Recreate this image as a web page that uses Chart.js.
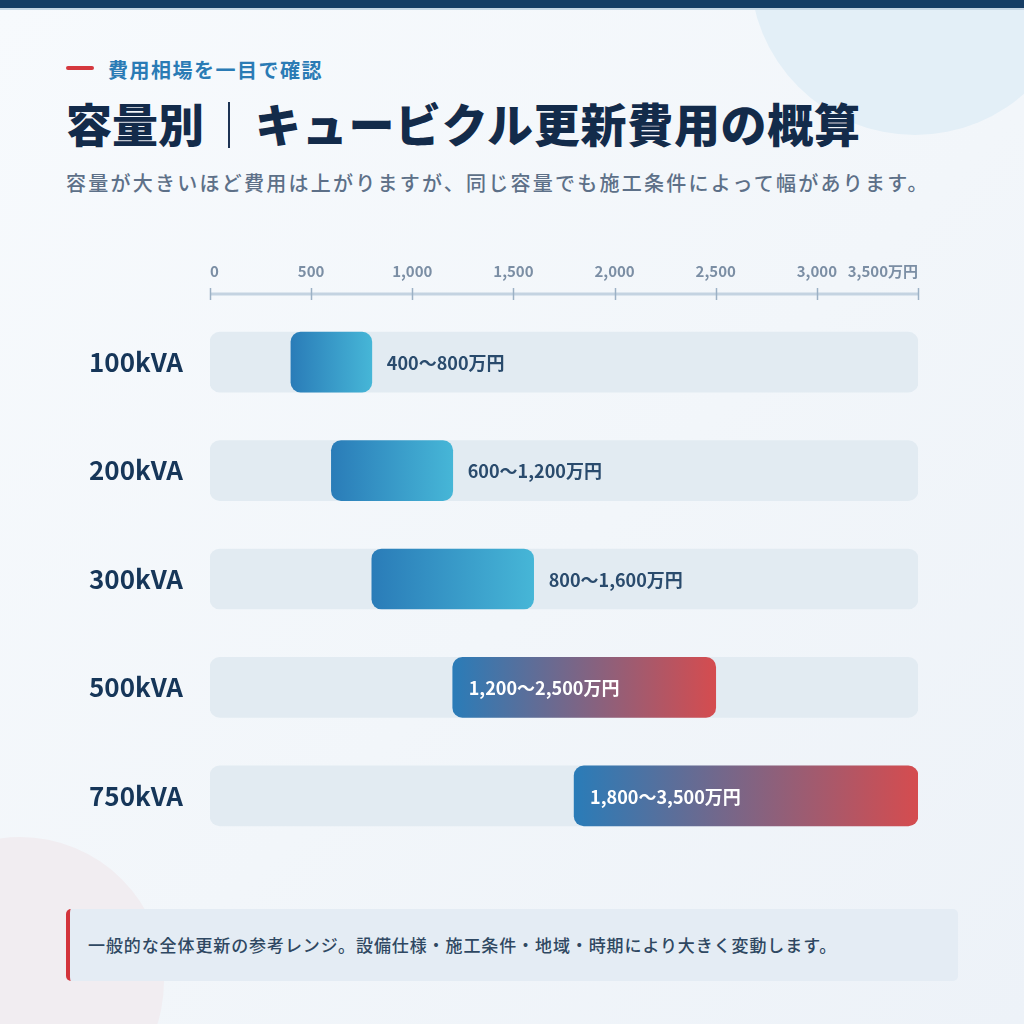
<!DOCTYPE html>
<html lang="ja">
<head>
<meta charset="utf-8">
<title>容量別｜キュービクル更新費用の概算</title>
<script src="https://cdn.jsdelivr.net/npm/chart.js@4.4.1/dist/chart.umd.min.js"></script>
<style>
  html, body { margin:0; padding:0; }
  body {
    width:1024px; height:1024px; position:relative; overflow:hidden;
    background:linear-gradient(135deg, #f7fafd 0%, #f2f6fa 55%, #edf2f8 100%);
    font-family:"Noto Sans CJK JP", "Noto Sans", sans-serif;
  }
  .blob { position:absolute; border-radius:50%; }
  .blob.tr { left:750px; top:-195px; width:330px; height:330px; background:#e3eff7; }
  .blob.bl { left:-124px; top:837px; width:288px; height:288px; background:#f1edf1; }
  .topbar { position:absolute; left:0; top:0; width:1024px; height:8px; background:#163d65;
            border-bottom:2px solid #c6d5e3; }
  .kicker-dash { position:absolute; left:66px; top:66px; width:28px; height:4px; border-radius:2px; background:#d5383e; }
  .kicker { position:absolute; left:108px; top:60px; font-size:20px; line-height:1; font-weight:700;
            letter-spacing:1.5px; color:#2a7bb5; }
  .title { position:absolute; top:99px; font-size:46px; line-height:1; font-weight:900; color:#132b4a; white-space:nowrap; }
  .title.a { left:66px; }
  .title.b { left:255px; letter-spacing:0.7px; }
  .sep { position:absolute; left:228px; top:102px; width:2px; height:46px; background:#1d3354; }
  .sub { position:absolute; left:66px; top:173px; font-size:20px; line-height:1; font-weight:500;
         letter-spacing:2.25px; color:#5d7088; white-space:nowrap; }
  #wrap { position:absolute; left:0; top:240px; width:1024px; height:620px; }
  .note { position:absolute; left:66px; top:909px; width:892px; height:72px; box-sizing:border-box;
          background:#e4ecf4; border-left:4px solid #d3343b; border-radius:5px;
          padding-left:18px; font-size:17px; line-height:72px; font-weight:500; letter-spacing:0.9px;
          color:#2f4862; white-space:nowrap; }
</style>
</head>
<body>
<div class="blob tr"></div>
<div class="blob bl"></div>
<div class="topbar"></div>

<div class="kicker-dash"></div>
<div class="kicker">費用相場を一目で確認</div>
<div class="title a">容量別</div>
<div class="sep"></div>
<div class="title b">キュービクル更新費用の概算</div>
<div class="sub">容量が大きいほど費用は上がりますが、同じ容量でも施工条件によって幅があります。</div>

<div id="wrap"><canvas id="rangeChart"></canvas></div>

<div class="note">一般的な全体更新の参考レンジ。設備仕様・施工条件・地域・時期により大きく変動します。</div>

<script>
// ── data (万円) ──────────────────────────────────────────────
const CATEGORIES = ["100kVA", "200kVA", "300kVA", "500kVA", "750kVA"];
const COST_LOW   = [400, 600, 800, 1200, 1800];
const COST_HIGH  = [800, 1200, 1600, 2500, 3500];
const AXIS_MIN   = 0;
const AXIS_MAX   = 3500;
const TICK_VALUES = [0, 500, 1000, 1500, 2000, 2500, 3000, 3500];
const UNIT = "万円";

// ── styles ───────────────────────────────────────────────────
const BAR_TONE = ["cool", "cool", "cool", "warm", "warm"];
const TONES = {
  cool: ["#2a7cb8", "#46b6d7"],
  warm: ["#2a7cb8", "#d54c4f"],
};
const FONT = "'Noto Sans CJK JP', 'Noto Sans', sans-serif";
const TRACK_COLOR = "#e2ebf2";
const LABEL_DARK  = "#2a4b6d";

const fmt = v => v.toLocaleString("en-US");

function rangeFill(ctx) {
  const chart = ctx.chart;
  const tone = TONES[BAR_TONE[ctx.dataIndex]] || TONES.cool;
  if (!chart.chartArea || ctx.type !== "data") return tone[0];
  const x = chart.scales.x;
  const x0 = x.getPixelForValue(COST_LOW[ctx.dataIndex]);
  const x1 = x.getPixelForValue(COST_HIGH[ctx.dataIndex]);
  const g = chart.ctx.createLinearGradient(x0, 0, x1, 0);
  g.addColorStop(0, tone[0]);
  g.addColorStop(1, tone[1]);
  return g;
}

// axis line with ticks crossing it, sitting a little above the bars
const axisLine = {
  id: "axisLine",
  afterDraw(chart) {
    const { ctx, chartArea, scales } = chart;
    const y = chartArea.top - 14;
    ctx.save();
    ctx.strokeStyle = "#c4d3e1";
    ctx.lineWidth = 3;
    ctx.beginPath();
    ctx.moveTo(scales.x.left, y);
    ctx.lineTo(scales.x.right, y);
    ctx.stroke();
    ctx.strokeStyle = "#9cb1c5";
    ctx.lineWidth = 1.5;
    TICK_VALUES.forEach(v => {
      const px = Math.round(scales.x.getPixelForValue(v)) + 0.5;
      ctx.beginPath();
      ctx.moveTo(px, y - 6);
      ctx.lineTo(px, y + 6);
      ctx.stroke();
    });
    ctx.restore();
  }
};

// range text next to / inside each bar
const rangeLabels = {
  id: "rangeLabels",
  afterDatasetsDraw(chart) {
    const { ctx } = chart;
    const meta = chart.getDatasetMeta(1);
    ctx.save();
    ctx.font = `700 18px ${FONT}`;
    ctx.textBaseline = "middle";
    ctx.textAlign = "left";
    meta.data.forEach((bar, i) => {
      const text = `${fmt(COST_LOW[i])}〜${fmt(COST_HIGH[i])}${UNIT}`;
      const lo = Math.min(bar.x, bar.base), hi = Math.max(bar.x, bar.base);
      if (BAR_TONE[i] === "warm") {
        ctx.fillStyle = "#ffffff";
        ctx.fillText(text, lo + 16, bar.y + 1);
      } else {
        ctx.fillStyle = LABEL_DARK;
        ctx.fillText(text, hi + 15, bar.y + 1);
      }
    });
    ctx.restore();
  }
};

new Chart(document.getElementById("rangeChart"), {
  type: "bar",
  data: {
    labels: CATEGORIES,
    datasets: [
      {
        label: "track",
        data: CATEGORIES.map(() => [AXIS_MIN, AXIS_MAX]),
        backgroundColor: TRACK_COLOR,
        borderRadius: 10,
        borderSkipped: false,
        barThickness: 60,
        order: 1,
      },
      {
        label: "費用レンジ",
        data: COST_LOW.map((lo, i) => [lo, COST_HIGH[i]]),
        backgroundColor: rangeFill,
        borderRadius: 10,
        borderSkipped: false,
        barThickness: 60,
        order: 0,
      },
    ],
  },
  options: {
    indexAxis: "y",
    responsive: true,
    maintainAspectRatio: false,
    animation: false,
    layout: { padding: { left: 0, right: 106, top: 0, bottom: 10 } },
    plugins: { legend: { display: false }, tooltip: { enabled: false } },
    datasets: { bar: { grouped: false } },
    scales: {
      x: {
        position: "top",
        min: AXIS_MIN,
        max: AXIS_MAX,
        grid: { display: false, drawTicks: false },
        border: { display: false },
        afterBuildTicks: s => { s.ticks = TICK_VALUES.map(v => ({ value: v })); },
        afterFit: s => { s.height = 68; s.paddingLeft = 0; s.paddingRight = 0; },
        ticks: {
          padding: 28,
          align: "inner",
          maxRotation: 0,
          autoSkip: false,
          color: "#7b8ea4",
          font: { family: FONT, size: 15, weight: "600" },
          callback: v => fmt(v) + (v === AXIS_MAX ? UNIT : ""),
        },
      },
      y: {
        grid: { display: false, drawTicks: false },
        border: { display: false },
        afterFit: s => { s.width = 210; s.paddingTop = 0; s.paddingBottom = 0; },
        ticks: {
          padding: 27,
          color: "#163659",
          font: { family: FONT, size: 26, weight: "700" },
        },
      },
    },
  },
  plugins: [axisLine, rangeLabels],
});
</script>
</body>
</html>
